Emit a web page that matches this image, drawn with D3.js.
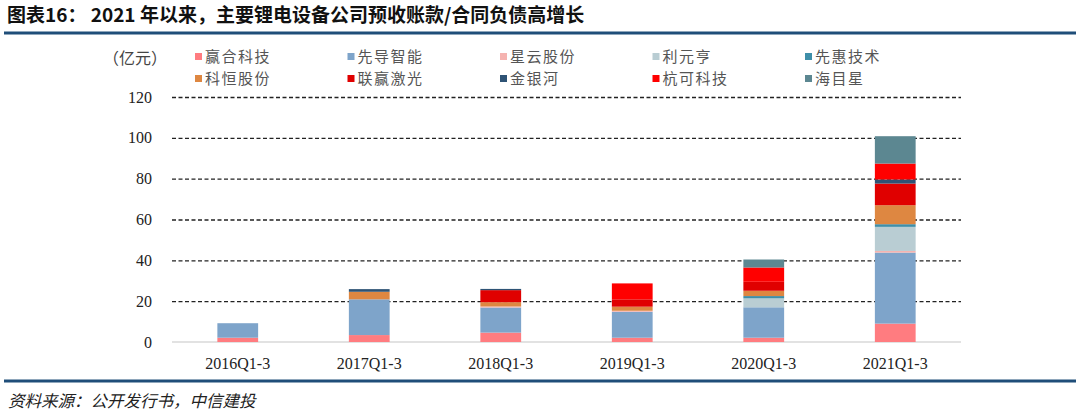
<!DOCTYPE html>
<html>
<head>
<meta charset="utf-8">
<script src="https://cdn.jsdelivr.net/npm/d3@7"></script>
<style>
  body { margin: 0; background: #fff; }
  text { font-family: "Liberation Serif", "Noto Sans CJK SC", serif; }
  .cjk { font-family: "Noto Sans CJK SC", sans-serif; }
  .grid line { stroke: #222; stroke-width: 1.4; stroke-dasharray: 4 2.5; }
  .grid .domain { display: none; }
</style>
</head>
<body>
<div id="wrapper"></div>
<script>
// data (亿元)
const periods = ["2016Q1-3", "2017Q1-3", "2018Q1-3", "2019Q1-3", "2020Q1-3", "2021Q1-3"];
const companies = ["赢合科技", "先导智能", "星云股份", "利元亨", "先惠技术",
                   "科恒股份", "联赢激光", "金银河", "杭可科技", "海目星"];
const yingHe    = [2.1, 3.4, 4.6, 2.1, 2.1, 9.0];
const xianDao   = [7.1, 17.5, 12.3, 12.7, 14.9, 34.8];
const xingYun   = [0, 0, 0.5, 0.5, 0, 0.8];
const liYuanHeng = [0, 0, 0, 0, 4.4, 11.8];
const xianHui   = [0, 0, 0, 0, 1.1, 1.3];
const keHeng    = [0, 3.7, 2.1, 2.0, 2.6, 9.3];
const lianYing  = [0, 0, 5.9, 3.6, 4.4, 10.6];
const jinYinHe  = [0, 1.3, 0.6, 0, 0, 2.0];
const hangKe    = [0, 0, 0, 7.8, 7.0, 7.8];
const haiMuXing = [0, 0, 0, 0, 3.9, 13.4];
const yTicks = [0, 20, 40, 60, 80, 100, 120];

const series = [yingHe, xianDao, xingYun, liYuanHeng, xianHui,
                keHeng, lianYing, jinYinHe, hangKe, haiMuXing];
const colors = ["#FF7C80", "#7EA4CA", "#F5B3B0", "#B9CDD3", "#3F8FA9",
                "#DE8741", "#E00000", "#2E5375", "#FF0000", "#5C8791"];

// table for the stack
const table = periods.map((p, i) => {
  const row = { period: p };
  companies.forEach((c, j) => row[c] = series[j][i]);
  return row;
});

// 1. dimensions
const dimensions = {
  width: 1080,
  height: 413,
  margin: { top: 97, right: 119, bottom: 71, left: 172 },
};
dimensions.boundedWidth = dimensions.width - dimensions.margin.left - dimensions.margin.right;
dimensions.boundedHeight = dimensions.height - dimensions.margin.top - dimensions.margin.bottom;

// 2. canvas
const wrapper = d3.select("#wrapper")
  .append("svg")
    .attr("width", dimensions.width)
    .attr("height", dimensions.height);

// title + rules
wrapper.append("text")
    .attr("class", "cjk")
    .attr("x", 7)
    .attr("y", 22)
    .attr("font-size", 19)
    .attr("font-weight", "bold")
    .attr("fill", "#111")
    .text("图表16： 2021 年以来，主要锂电设备公司预收账款/合同负债高增长");

wrapper.append("line")
    .attr("x1", 4).attr("x2", 1076)
    .attr("y1", 33).attr("y2", 33)
    .attr("stroke", "#1F4E79").attr("stroke-width", 3);

wrapper.append("line")
    .attr("x1", 4).attr("x2", 1076)
    .attr("y1", 381).attr("y2", 381)
    .attr("stroke", "#1F4E79").attr("stroke-width", 3);

wrapper.append("text")
    .attr("class", "cjk")
    .attr("x", 8)
    .attr("y", 407)
    .attr("font-size", 16.5)
    .attr("font-style", "italic")
    .attr("fill", "#222")
    .text("资料来源：公开发行书，中信建投");

const bounds = wrapper.append("g")
    .attr("transform", `translate(${dimensions.margin.left}, ${dimensions.margin.top})`);

// 3. scales
const xScale = d3.scaleBand()
  .domain(periods)
  .range([0, dimensions.boundedWidth])
  .paddingInner(0.69)
  .paddingOuter(0.345);

const yScale = d3.scaleLinear()
  .domain([0, 120])
  .range([dimensions.boundedHeight, 0]);

// 4. peripherals behind bars
const gridGenerator = d3.axisLeft(yScale)
  .tickValues(yTicks.filter(d => d > 0))
  .tickSize(-dimensions.boundedWidth)
  .tickFormat("");

bounds.append("g")
    .attr("class", "grid")
  .call(gridGenerator)
  .selectAll("line")
    .attr("x1", 0);

bounds.append("line")
    .attr("x1", 0).attr("x2", dimensions.boundedWidth)
    .attr("y1", yScale(0)).attr("y2", yScale(0))
    .attr("stroke", "#D9D9D9").attr("stroke-width", 1.3);

// 5. bars
const stacked = d3.stack().keys(companies)(table);

bounds.selectAll(".layer")
  .data(stacked)
  .join("g")
    .attr("class", "layer")
    .attr("fill", (d, i) => colors[i])
  .selectAll("rect")
  .data(d => d)
  .join("rect")
    .attr("x", d => xScale(d.data.period))
    .attr("y", d => yScale(d[1]))
    .attr("width", xScale.bandwidth())
    .attr("height", d => yScale(d[0]) - yScale(d[1]));

// 6. axis labels
bounds.selectAll(".y-label")
  .data(yTicks)
  .join("text")
    .attr("class", "y-label")
    .attr("x", -20)
    .attr("y", d => yScale(d))
    .attr("dy", "0.35em")
    .attr("text-anchor", "end")
    .attr("font-size", 16)
    .attr("fill", "#222")
    .text(d => d);

bounds.selectAll(".x-label")
  .data(periods)
  .join("text")
    .attr("class", "x-label")
    .attr("x", d => xScale(d) + xScale.bandwidth() / 2)
    .attr("y", dimensions.boundedHeight + 27)
    .attr("text-anchor", "middle")
    .attr("font-size", 16)
    .attr("fill", "#222")
    .text(d => d);

wrapper.append("text")
    .attr("class", "cjk")
    .attr("x", 103)
    .attr("y", 64)
    .attr("font-size", 16)
    .attr("fill", "#444")
    .text("（亿元）");

// legend: 5 columns, 2 rows
const legend = wrapper.append("g");
const legendItems = legend.selectAll("g")
  .data(companies)
  .join("g")
    .attr("transform", (d, i) => `translate(${195 + (i % 5) * 152.5}, ${56.5 + Math.floor(i / 5) * 22})`);

legendItems.append("rect")
    .attr("x", 0).attr("y", -3.5)
    .attr("width", 7).attr("height", 7)
    .attr("fill", (d, i) => colors[i]);

legendItems.append("text")
    .attr("class", "cjk")
    .attr("x", 10)
    .attr("dy", "0.35em")
    .attr("font-size", 15)
    .attr("letter-spacing", 1.5)
    .attr("fill", "#555")
    .text(d => d);
</script>
</body>
</html>
